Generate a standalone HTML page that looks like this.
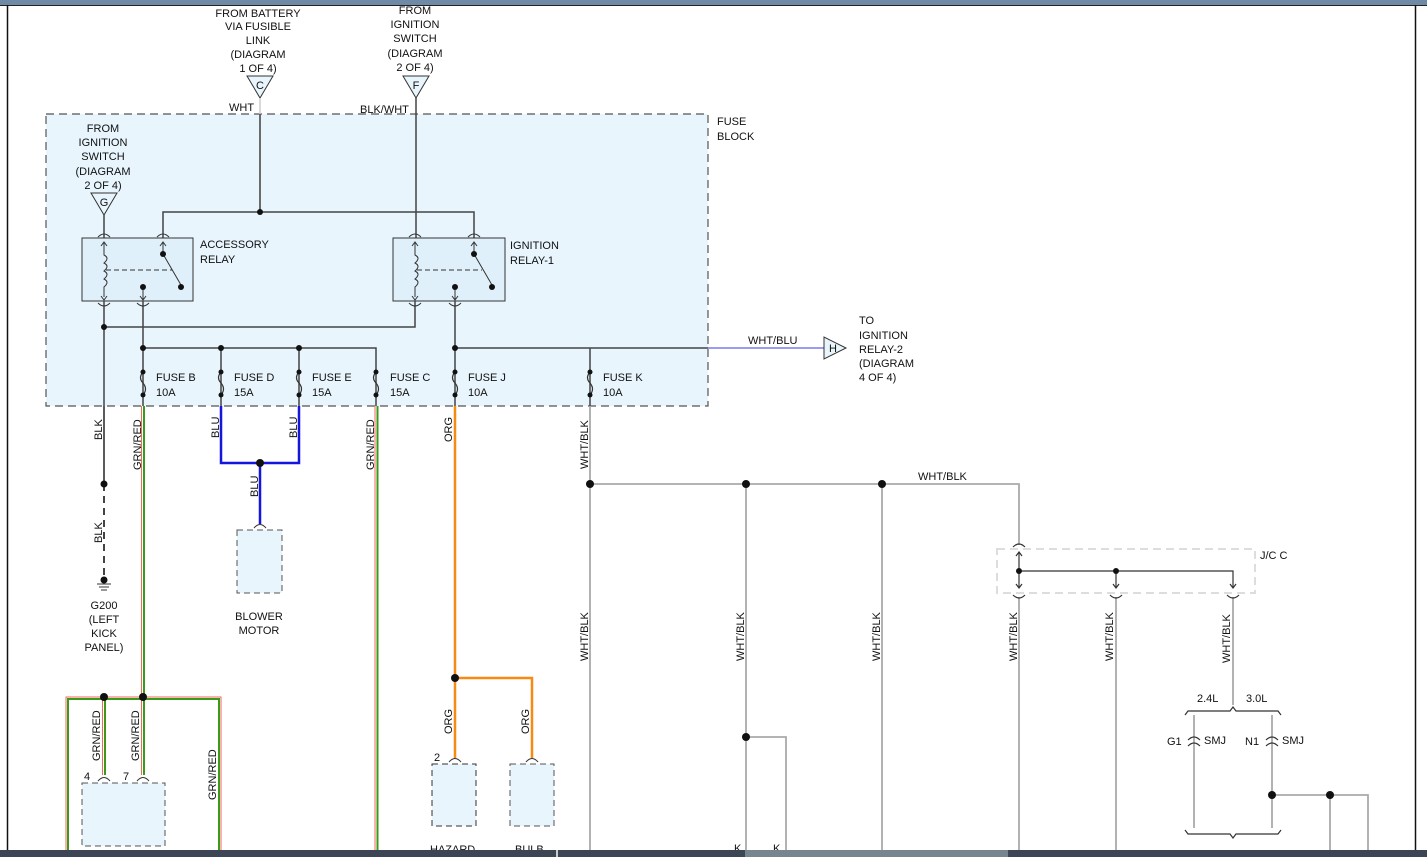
<!DOCTYPE html>
<html><head><meta charset="utf-8"><style>
html,body{margin:0;padding:0;background:#fff;}
svg{display:block;font-family:"Liberation Sans",sans-serif;}
text{font-size:11px;fill:#111;}
</style></head><body>
<svg width="1427" height="857" viewBox="0 0 1427 857" xmlns="http://www.w3.org/2000/svg">
<rect x="0" y="0" width="1427" height="5" fill="#6f8aa6"/>
<line x1="0" y1="5.5" x2="1427" y2="5.5" stroke="#222" stroke-width="1"/>
<line x1="7.5" y1="5" x2="7.5" y2="850" stroke="#111" stroke-width="1.5"/>
<line x1="1415.5" y1="5" x2="1415.5" y2="850" stroke="#111" stroke-width="1.5"/>

<!-- fuse block -->
<rect x="46" y="114" width="662" height="292" fill="#e8f5fd" stroke="#555" stroke-width="1.2" stroke-dasharray="8,5"/>
<text x="717" y="125">FUSE</text><text x="717" y="140">BLOCK</text>

<!-- top labels -->
<g text-anchor="middle">
<text x="258" y="17">FROM BATTERY</text><text x="258" y="30">VIA FUSIBLE</text><text x="258" y="44">LINK</text><text x="258" y="58">(DIAGRAM</text><text x="258" y="72">1 OF 4)</text>
<text x="415" y="14">FROM</text><text x="415" y="28">IGNITION</text><text x="415" y="42">SWITCH</text><text x="415" y="57">(DIAGRAM</text><text x="415" y="71">2 OF 4)</text>
<text x="103" y="132">FROM</text><text x="103" y="146">IGNITION</text><text x="103" y="160">SWITCH</text><text x="103" y="175">(DIAGRAM</text><text x="103" y="189">2 OF 4)</text>
</g>
<g fill="#e8f5fd" stroke="#333" stroke-width="1">
<polygon points="247,76 273,76 260,98"/><polygon points="403,76 429,76 416,98"/><polygon points="91,193 117,193 104,215"/>
</g>
<g text-anchor="middle"><text x="260" y="89">C</text><text x="416" y="89">F</text><text x="104" y="206">G</text></g>
<text x="229" y="111">WHT</text><text x="360" y="113">BLK/WHT</text>

<g stroke="#444" stroke-width="1.5" fill="none">
<line x1="260" y1="98" x2="260" y2="212" stroke="#ccc"/>
<line x1="260" y1="114" x2="260" y2="212"/>
<line x1="416" y1="98" x2="416" y2="238"/>
<polyline points="163,238 163,212 474,212 474,238"/>
<line x1="104" y1="215" x2="104" y2="238"/>
<!-- relays -->
<rect x="82" y="238" width="111" height="63" fill="#dff0fa" stroke="#333" stroke-width="1"/>
<rect x="393" y="238" width="112" height="63" fill="#dff0fa" stroke="#333" stroke-width="1"/>
<line x1="104" y1="301" x2="104" y2="484"/>
<polyline points="104,327 415,327 415,301"/>
<line x1="143" y1="301" x2="143" y2="406"/>
<polyline points="143,348 376,348 376,406"/>
<line x1="221" y1="348" x2="221" y2="406"/><line x1="299" y1="348" x2="299" y2="406"/>
<line x1="455" y1="301" x2="455" y2="406"/>
<line x1="455" y1="348" x2="708" y2="348"/>
<line x1="590" y1="348" x2="590" y2="406"/>
</g>
<line x1="708" y1="348" x2="826" y2="348" stroke="#7a7af0" stroke-width="1.5"/>
<polygon points="824,337 824,359 846,348" fill="#e8f5fd" stroke="#333"/>
<text x="829" y="352">H</text>
<text x="748" y="344">WHT/BLU</text>
<text x="859" y="324">TO</text><text x="859" y="339">IGNITION</text><text x="859" y="353">RELAY-2</text><text x="859" y="367">(DIAGRAM</text><text x="859" y="381">4 OF 4)</text>

<!-- relay internals -->
<g stroke="#333" stroke-width="1" fill="none">
<path d="M104,243 v12 q6,3 0,8 q6,3 0,8 q6,3 0,8 q6,3 0,8 v10"/>
<path d="M101,246 l3,-4 l3,4 M101,296 l3,4 l3,-4"/>
<path d="M163,243 v12 M160,246 l3,-4 l3,4"/>
<line x1="163" y1="254" x2="181" y2="285"/>
<line x1="106" y1="270" x2="172" y2="270" stroke-dasharray="5,3"/>
<path d="M143,287 v12 M140,296 l3,4 l3,-4"/>
<path d="M415,243 v12 q6,3 0,8 q6,3 0,8 q6,3 0,8 q6,3 0,8 v10"/>
<path d="M412,246 l3,-4 l3,4 M412,296 l3,4 l3,-4"/>
<path d="M474,243 v12 M471,246 l3,-4 l3,4"/>
<line x1="474" y1="254" x2="492" y2="285"/>
<line x1="417" y1="270" x2="482" y2="270" stroke-dasharray="5,3"/>
<path d="M455,287 v12 M452,296 l3,4 l3,-4"/>
<path d="M98,237 q6,-6 12,0 M157,237 q6,-6 12,0 M409,237 q6,-6 12,0 M468,237 q6,-6 12,0"/>
<path d="M98,303 q6,6 12,0 M137,303 q6,6 12,0 M409,303 q6,6 12,0 M449,303 q6,6 12,0"/>
</g>
<g fill="#111">
<circle cx="260" cy="212" r="3"/><circle cx="163" cy="254" r="3"/><circle cx="181" cy="287" r="3"/><circle cx="143" cy="287" r="3"/>
<circle cx="474" cy="254" r="3"/><circle cx="492" cy="287" r="3"/><circle cx="455" cy="287" r="3"/>
<circle cx="104" cy="327" r="3"/><circle cx="143" cy="348" r="3"/><circle cx="221" cy="348" r="3"/><circle cx="299" cy="348" r="3"/><circle cx="455" cy="348" r="3"/>
</g>
<text x="200" y="248">ACCESSORY</text><text x="200" y="263">RELAY</text>
<text x="510" y="249">IGNITION</text><text x="510" y="264">RELAY-1</text>

<!-- fuses -->
<g id="fuses">
<g stroke="#333" stroke-width="1.2" fill="none">
<path d="M143,372 q-5,6 0,11 q5,6 0,12"/><path d="M221,372 q-5,6 0,11 q5,6 0,12"/><path d="M299,372 q-5,6 0,11 q5,6 0,12"/>
<path d="M376,372 q-5,6 0,11 q5,6 0,12"/><path d="M455,372 q-5,6 0,11 q5,6 0,12"/><path d="M590,372 q-5,6 0,11 q5,6 0,12"/>
</g>
<g fill="#111">
<circle cx="143" cy="372" r="2.5"/><circle cx="143" cy="395" r="2.5"/><circle cx="221" cy="372" r="2.5"/><circle cx="221" cy="395" r="2.5"/>
<circle cx="299" cy="372" r="2.5"/><circle cx="299" cy="395" r="2.5"/><circle cx="376" cy="372" r="2.5"/><circle cx="376" cy="395" r="2.5"/>
<circle cx="455" cy="372" r="2.5"/><circle cx="455" cy="395" r="2.5"/><circle cx="590" cy="372" r="2.5"/><circle cx="590" cy="395" r="2.5"/>
</g>
</g>
<text x="156" y="381">FUSE B</text><text x="156" y="396">10A</text>
<text x="234" y="381">FUSE D</text><text x="234" y="396">15A</text>
<text x="312" y="381">FUSE E</text><text x="312" y="396">15A</text>
<text x="390" y="381">FUSE C</text><text x="390" y="396">15A</text>
<text x="468" y="381">FUSE J</text><text x="468" y="396">10A</text>
<text x="603" y="381">FUSE K</text><text x="603" y="396">10A</text>

<!-- BLK to ground -->
<line x1="104" y1="406" x2="104" y2="484" stroke="#444" stroke-width="1.5"/>
<line x1="104" y1="484" x2="104" y2="580" stroke="#444" stroke-width="2" stroke-dasharray="7,5"/>
<circle cx="104" cy="484" r="3.5" fill="#111"/><circle cx="104" cy="580" r="3.5" fill="#111"/>
<g stroke="#333" stroke-width="1"><line x1="97" y1="584" x2="111" y2="584"/><line x1="99" y1="587" x2="109" y2="587"/><line x1="101" y1="590" x2="107" y2="590"/></g>
<g text-anchor="middle"><text x="104" y="609">G200</text><text x="104" y="623">(LEFT</text><text x="104" y="637">KICK</text><text x="104" y="651">PANEL)</text>
<text x="259" y="620">BLOWER</text><text x="259" y="634">MOTOR</text></g>

<!-- GRN/RED -->
<g fill="none">
<line x1="141.5" y1="406" x2="141.5" y2="697" stroke="#f06a5a" stroke-width="1"/>
<line x1="144" y1="406" x2="144" y2="697" stroke="#3a9a1a" stroke-width="2"/>
<line x1="375" y1="406" x2="375" y2="857" stroke="#f06a5a" stroke-width="1"/>
<line x1="377.5" y1="406" x2="377.5" y2="857" stroke="#3a9a1a" stroke-width="2"/>
<polyline points="66,857 66,697 221,697 221,857" stroke="#f06a5a" stroke-width="1"/>
<polyline points="68,857 68,699 219,699 219,857" stroke="#3a9a1a" stroke-width="2"/>
<line x1="102.5" y1="697" x2="102.5" y2="775" stroke="#f06a5a" stroke-width="1"/>
<line x1="105" y1="697" x2="105" y2="775" stroke="#3a9a1a" stroke-width="2"/>
<line x1="141.5" y1="697" x2="141.5" y2="775" stroke="#f06a5a" stroke-width="1"/>
<line x1="144" y1="697" x2="144" y2="775" stroke="#3a9a1a" stroke-width="2"/>
</g>
<circle cx="104" cy="697" r="4" fill="#111"/><circle cx="143" cy="697" r="4" fill="#111"/>
<rect x="82" y="783" width="83" height="63" fill="#e8f5fd" stroke="#555" stroke-dasharray="6,4"/>
<path d="M98,781 q6,-7 12,0 M137,781 q6,-7 12,0" stroke="#333" fill="none"/>
<text x="84" y="780">4</text><text x="123" y="780">7</text>

<!-- BLU -->
<polyline points="221,406 221,463 299,463 299,406" stroke="#1515e0" stroke-width="2.5" fill="none"/>
<line x1="260" y1="463" x2="260" y2="524" stroke="#1515e0" stroke-width="2.5"/>
<circle cx="260" cy="463" r="4" fill="#111"/>
<path d="M254,528 q6,-7 12,0" stroke="#333" fill="none"/>
<rect x="237" y="530" width="45" height="63" fill="#e8f5fd" stroke="#555" stroke-dasharray="6,4"/>

<!-- ORG -->
<g stroke="#f78a14" stroke-width="2.5" fill="none">
<line x1="455" y1="406" x2="455" y2="758"/>
<polyline points="455,678 532,678 532,758"/>
</g>
<circle cx="455" cy="678" r="4" fill="#111"/>
<path d="M449,762 q6,-7 12,0 M526,762 q6,-7 12,0" stroke="#333" fill="none"/>
<rect x="432" y="764" width="44" height="62" fill="#e8f5fd" stroke="#333" stroke-dasharray="6,4"/>
<rect x="510" y="764" width="44" height="62" fill="#e8f5fd" stroke="#555" stroke-dasharray="6,4"/>
<text x="434" y="761">2</text>
<text x="430" y="853">HAZARD</text><text x="515" y="853">BULB</text>

<!-- WHT/BLK -->
<g stroke="#aaa" stroke-width="1.8" fill="none">
<line x1="590" y1="406" x2="590" y2="857"/>
<polyline points="590,484 1019,484 1019,545"/>
<line x1="746" y1="484" x2="746" y2="857"/>
<line x1="882" y1="484" x2="882" y2="857"/>
<polyline points="746,737 786,737 786,857"/>
<line x1="1019" y1="597" x2="1019" y2="857"/>
<line x1="1116" y1="597" x2="1116" y2="857"/>
<line x1="1233" y1="597" x2="1233" y2="705"/>
<line x1="1194" y1="715" x2="1194" y2="828"/>
<line x1="1272" y1="715" x2="1272" y2="828"/>
<polyline points="1272,795 1368,795 1368,857"/>
<line x1="1330" y1="795" x2="1330" y2="857"/>
</g>
<g fill="#111"><circle cx="590" cy="484" r="4"/><circle cx="746" cy="484" r="4"/><circle cx="882" cy="484" r="4"/><circle cx="746" cy="737" r="4"/><circle cx="1272" cy="795" r="4"/><circle cx="1330" cy="795" r="4"/></g>
<text x="918" y="480">WHT/BLK</text>
<rect x="997" y="549" width="258" height="44" fill="none" stroke="#ddd" stroke-width="2" stroke-dasharray="8,5"/>
<text x="1260" y="559">J/C C</text>
<g stroke="#333" stroke-width="1.2" fill="none">
<polyline points="1019,552 1019,588"/>
<polyline points="1019,571 1233,571 1233,588"/>
<line x1="1116" y1="571" x2="1116" y2="588"/>
<path d="M1016,556 l3,-4 l3,4 M1016,584 l3,4 l3,-4 M1113,584 l3,4 l3,-4 M1230,584 l3,4 l3,-4"/>
<path d="M1013,547 q6,-6 12,0 M1013,595 q6,6 12,0 M1110,595 q6,6 12,0 M1227,595 q6,6 12,0"/>
<path d="M1185,715 l3,-4 h42 l3,-4 l3,4 h42 l3,4"/>
<path d="M1185,830 l3,4 h42 l3,4 l3,-4 h42 l3,-4"/>
<path d="M1188,740 q6,-6 12,0 M1188,746 q6,-6 12,0 M1266,740 q6,-6 12,0 M1266,746 q6,-6 12,0"/>
</g>
<circle cx="1019" cy="571" r="3" fill="#111"/><circle cx="1116" cy="571" r="3" fill="#111"/>
<text x="1197" y="702">2.4L</text><text x="1246" y="702">3.0L</text>
<text x="1167" y="745">G1</text><text x="1204" y="744">SMJ</text>
<text x="1245" y="745">N1</text><text x="1282" y="744">SMJ</text>

<!-- vertical labels -->
<g font-size="11">
<text transform="translate(102,440) rotate(-90)">BLK</text>
<text transform="translate(102,543) rotate(-90)">BLK</text>
<text transform="translate(141,470) rotate(-90)">GRN/RED</text>
<text transform="translate(219,438) rotate(-90)">BLU</text>
<text transform="translate(297,438) rotate(-90)">BLU</text>
<text transform="translate(258,497) rotate(-90)">BLU</text>
<text transform="translate(374,470) rotate(-90)">GRN/RED</text>
<text transform="translate(452,442) rotate(-90)">ORG</text>
<text transform="translate(588,469) rotate(-90)">WHT/BLK</text>
<text transform="translate(588,661) rotate(-90)">WHT/BLK</text>
<text transform="translate(744,661) rotate(-90)">WHT/BLK</text>
<text transform="translate(880,661) rotate(-90)">WHT/BLK</text>
<text transform="translate(1017,661) rotate(-90)">WHT/BLK</text>
<text transform="translate(1113,661) rotate(-90)">WHT/BLK</text>
<text transform="translate(1230,663) rotate(-90)">WHT/BLK</text>
<text transform="translate(100,761) rotate(-90)">GRN/RED</text>
<text transform="translate(139,761) rotate(-90)">GRN/RED</text>
<text transform="translate(216,800) rotate(-90)">GRN/RED</text>
<text transform="translate(452,734) rotate(-90)">ORG</text>
<text transform="translate(529,734) rotate(-90)">ORG</text>
</g>
<text x="734" y="852">K</text><text x="773" y="852">K</text>

<!-- bottom bar -->
<rect x="0" y="850" width="1427" height="7" fill="#3c4654"/>
<rect x="556" y="850" width="2" height="7" fill="#ccc"/>
<rect x="745" y="850" width="263" height="7" fill="#77858f"/>
</svg>
</body></html>
